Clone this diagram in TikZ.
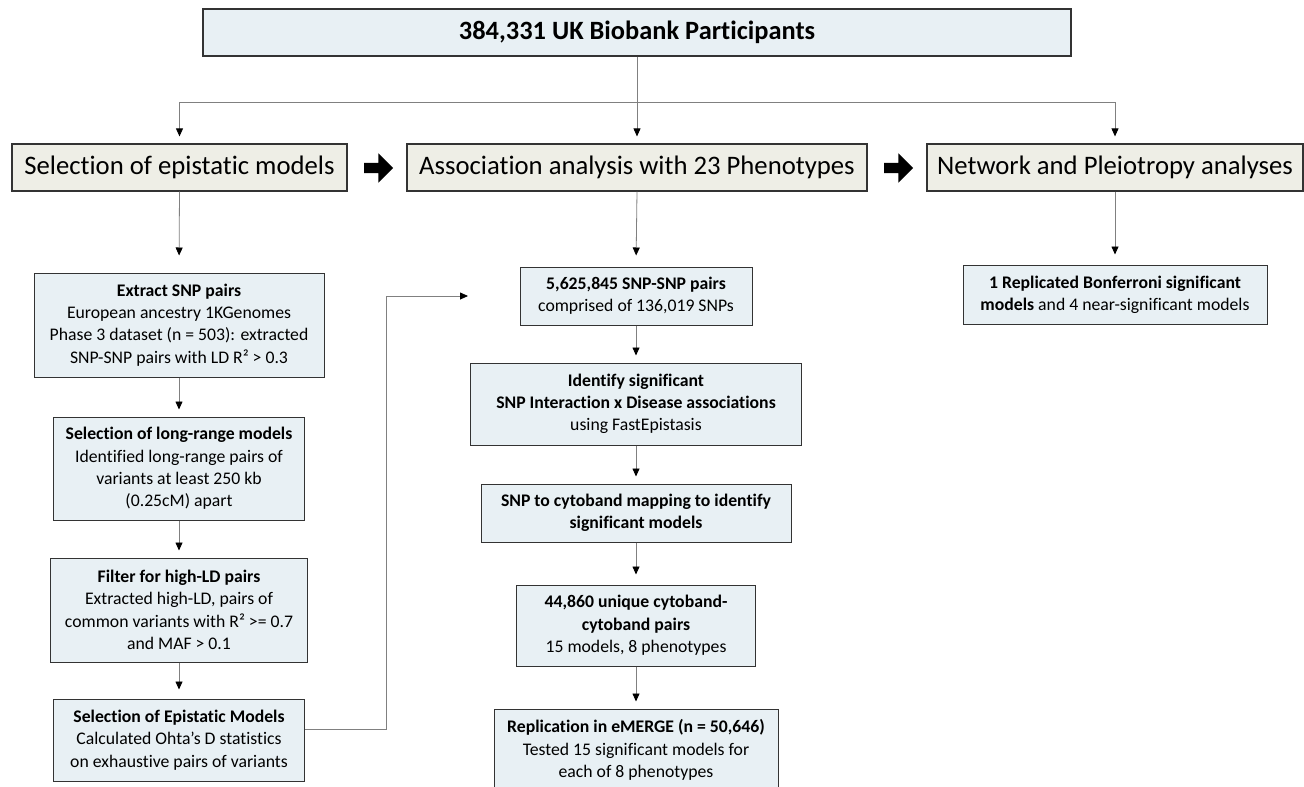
\documentclass[tikz,border=0pt]{standalone}
\usepackage{fontspec}
\setmainfont{Carlito}[Ligatures=NoCommon]
\usetikzlibrary{arrows.meta,shapes.arrows}
\definecolor{boxblue}{HTML}{E8F0F4}
\definecolor{boxgrey}{HTML}{EEEEE6}
\definecolor{rule}{HTML}{333333}
\definecolor{wire}{HTML}{808080}
\begin{document}
\begin{tikzpicture}[x=1pt,y=-1pt]
\tikzset{titre/.style={draw=rule, line width=1.2pt, fill=boxblue, inner sep=0pt, align=center, font=\fontsize{26.4}{30}\selectfont\bfseries},
etape/.style={draw=rule, line width=1.2pt, fill=boxgrey, inner sep=0pt, align=center, font=\fontsize{26.7}{30}\selectfont},
boite/.style={draw=rule, line width=1pt, fill=boxblue, inner sep=0pt, align=center, font=\fontsize{17.7}{22.3}\selectfont},
fleche/.style={draw=wire, line width=0.8pt, -{Triangle[length=8pt,width=7pt,color=black]}, shorten >=7pt},
gros/.style={single arrow, fill=black, minimum height=29pt, single arrow head extend=9.5pt, inner xsep=0pt, inner ysep=0pt}}
\useasboundingbox (0,0) rectangle (1304,787);
\clip (0,0) rectangle (1304,787);
\node[titre, minimum width=868pt, minimum height=47pt] (T) at (637,32.5) {384,331 UK Biobank Participants};
\node[etape, minimum width=335pt, minimum height=47pt] (H1) at (179.5,167.5) {Selection of epistatic models};
\node[etape, minimum width=460pt, minimum height=47pt] (H2) at (637,167.5) {Association analysis with 23 Phenotypes};
\node[etape, minimum width=376pt, minimum height=47pt] (H3) at (1115,167.5) {Network and Pleiotropy analyses};
\node[gros] (A1) at (376,168) {\rule{0pt}{10pt}};
\node[gros] (A2) at (896,168) {\rule{0pt}{10pt}};
\node[boite, minimum width=290pt, minimum height=104pt] (L1) at (179,325) {\textbf{Extract SNP pairs}\\European ancestry 1KGenomes\\Phase 3 dataset (n = 503): extracted\\SNP-SNP pairs with LD R² > 0.3};
\node[boite, minimum width=251pt, minimum height=103pt] (L2) at (179,468.5) {\textbf{Selection of long-range models}\\Identified long-range pairs of\\variants at least 250 kb\\(0.25cM) apart};
\node[boite, minimum width=257pt, minimum height=104pt] (L3) at (179,610) {\textbf{Filter for high-LD pairs}\\Extracted high-LD, pairs of\\common variants with R² >= 0.7\\and MAF > 0.1};
\node[boite, minimum width=251pt, minimum height=82pt] (L4) at (179,740) {\textbf{Selection of Epistatic Models}\\Calculated Ohta’s D statistics\\on exhaustive pairs of variants};
\node[boite, minimum width=232pt, minimum height=58pt] (M1) at (636,296) {\textbf{5,625,845 SNP-SNP pairs}\\comprised of 136,019 SNPs};
\node[boite, minimum width=331pt, minimum height=82pt] (M2) at (636,404) {\textbf{Identify significant}\\\textbf{SNP Interaction x Disease associations}\\using FastEpistasis};
\node[boite, minimum width=310pt, minimum height=58pt] (M3) at (636,513) {\textbf{SNP to cytoband mapping to identify}\\\textbf{significant models}};
\node[boite, minimum width=239pt, minimum height=81pt] (M4) at (636,625.5) {\textbf{44,860 unique cytoband-}\\\textbf{cytoband pairs}\\15 models, 8 phenotypes};
\node[boite, minimum width=284pt, minimum height=82pt] (M5) at (636,750) {\textbf{Replication in eMERGE (n = 50,646)}\\Tested 15 significant models for\\each of 8 phenotypes};
\node[boite, minimum width=304pt, minimum height=59pt] (N1) at (1115,294.5) {\textbf{1 Replicated Bonferroni significant}\\\textbf{models} and 4 near-significant models};
\coordinate (J) at (637,102);
\coordinate (K) at (386,296);
\coordinate (E) at (468,296);
\draw[fleche] (T.south) -- (H2.north);
\draw[fleche] (J) -| (H1.north);
\draw[fleche] (J) -| (H3.north);
\draw[fleche, shorten >=17pt] (H1.south) -- (L1.north);
\draw[fleche] (L1.south) -- (L2.north);
\draw[fleche] (L2.south) -- (L3.north);
\draw[fleche, shorten >=9pt] (L3.south) -- (L4.north);
\draw[fleche, shorten >=0pt] ([yshift=11pt]L4.east) -| (K) -- (E);
\draw[fleche, shorten >=11pt] (H2.south) -- (M1.north);
\draw[fleche] (M1.south) -- (M2.north);
\draw[fleche] (M2.south) -- (M3.north);
\draw[fleche, shorten >=10pt] (M3.south) -- (M4.north);
\draw[fleche] (M4.south) -- (M5.north);
\draw[fleche, shorten >=10pt] (H3.south) -- (N1.north);
\end{tikzpicture}
\end{document}
